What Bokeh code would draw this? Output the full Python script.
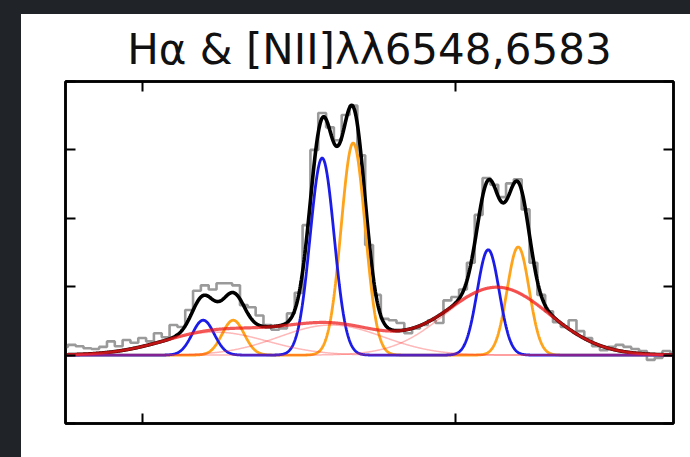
import numpy as np
from bokeh.plotting import figure
from bokeh.models import LinearAxis, FixedTicker, Range1d, Spacer, CustomJSTickFormatter
from bokeh.layouts import column, row
from bokeh.embed import file_html
from bokeh.resources import INLINE

TITLE = "Hα & [NII]λλ6548,6583"
X_TICKS = [6540, 6580]
Y_TICKS = [-1, 0, 1, 2, 3, 4]

wave_bins = list(range(6530, 6609))
flux = [0.12, 0.15, 0.13, 0.10, 0.09, 0.12, 0.20, 0.13, 0.22, 0.18,
        0.25, 0.20, 0.32, 0.26, 0.44, 0.41, 0.66, 0.94, 1.02, 0.96,
        1.05, 1.05, 1.02, 0.73, 0.70, 0.58, 0.44, 0.37, 0.39, 0.61,
        0.91, 1.90, 3.00, 3.54, 3.33, 3.14, 3.51, 3.65, 2.92, 1.61,
        0.88, 0.53, 0.51, 0.47, 0.32, 0.39, 0.44, 0.51, 0.47, 0.80,
        0.85, 0.96, 1.35, 2.05, 2.59, 2.49, 2.31, 2.51, 2.57, 2.13,
        1.35, 0.88, 0.64, 0.48, 0.41, 0.51, 0.35, 0.25, 0.13, 0.07,
        0.12, 0.15, 0.12, 0.09, 0.06, -0.07, -0.04, 0.06, 0.03]

# narrow components, blue-shifted peak ([NII]6548, Halpha, [NII]6583)
blue_center = [6547.80, 6563.00, 6584.22]
blue_amp = [0.51, 2.88, 1.54]
blue_sigma = [1.41, 1.53, 1.41]

# narrow components, red-shifted peak
orange_center = [6551.63, 6566.96, 6588.05]
orange_amp = [0.51, 3.10, 1.58]
orange_sigma = [1.41, 1.53, 1.41]

# broad components
broad_center = [6549.33, 6564.15, 6585.37]
broad_amp = [0.336, 0.44, 0.99]
broad_sigma = [6.65, 6.65, 6.65]


def gauss(x, c, a, s):
    return a * np.exp(-0.5 * ((x - c) / s) ** 2)


wave = np.linspace(6528.0, 6610.0, 1641)
blue = sum(gauss(wave, c, a, s) for c, a, s in zip(blue_center, blue_amp, blue_sigma))
orange = sum(gauss(wave, c, a, s) for c, a, s in zip(orange_center, orange_amp, orange_sigma))
broad_each = [gauss(wave, c, a, s) for c, a, s in zip(broad_center, broad_amp, broad_sigma)]
broad = sum(broad_each)
total = blue + orange + broad

W, H = 669, 443
p = figure(width=W, height=H, output_backend="svg", toolbar_location=None,
           x_range=Range1d(6530.2, 6607.9), y_range=Range1d(-1, 4),
           min_border_left=44, min_border_right=17, min_border_top=67,
           min_border_bottom=34, background_fill_color="white",
           border_fill_color="white")

p.title.text = TITLE
p.title.align = "center"
p.title.text_font = "DejaVu Sans"
p.title.text_font_size = "42px"
p.title.text_font_style = "normal"
p.title.text_color = "#111111"
p.title.standoff = 15

p.grid.visible = False
p.outline_line_color = "black"
p.outline_line_width = 2.5

p.add_layout(LinearAxis(), "above")
p.add_layout(LinearAxis(), "right")
for ax in p.axis:
    ax.formatter = CustomJSTickFormatter(code="return ''")
    ax.major_label_text_color = None
    ax.major_label_text_font_size = "0px"
    ax.major_label_standoff = 0
    ax.major_tick_in = 10
    ax.major_tick_out = 0
    ax.minor_tick_in = 0
    ax.minor_tick_out = 0
    ax.axis_line_width = 2.5
    ax.axis_line_color = "black"
    ax.major_tick_line_width = 2
    ax.major_tick_line_color = "black"
for ax in p.xaxis:
    ax.ticker = FixedTicker(ticks=X_TICKS)
for ax in p.yaxis:
    ax.ticker = FixedTicker(ticks=Y_TICKS)

p.step(x=wave_bins, y=flux, mode="center", line_color="#9a9a9a", line_width=2.6)
p.line(wave, total, line_color="black", line_width=3.6)
p.line(wave, orange, line_color="#ffa31a", line_width=2.8)
p.line(wave, blue, line_color="#1c1ce8", line_width=2.8)
p.line(wave, broad, line_color="#ee1111", line_width=3.2, line_alpha=0.7)
for b in broad_each:
    p.line(wave, b, line_color="#ff3030", line_width=1.5, line_alpha=0.35)

dark = "#202328"
top = Spacer(width=690, height=14, styles={"background-color": dark})
left = Spacer(width=21, height=H, styles={"background-color": dark})
layout = column(top, row(left, p, spacing=0), spacing=0)

open("out.html", "w").write(file_html(layout, INLINE))
